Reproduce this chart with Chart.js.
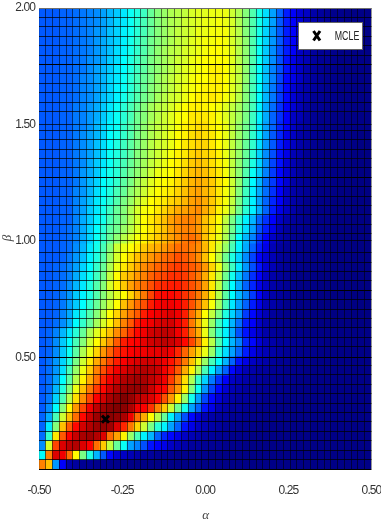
<!DOCTYPE html>
<html>
<head>
<meta charset="utf-8">
<style>html,body{margin:0;padding:0;background:#fff}canvas{display:block}</style>
<script src="https://cdn.jsdelivr.net/npm/chart.js@4"></script>
</head>
<body>
<canvas id="c" width="381" height="523"></canvas>
<script>
const alphaTickLabels = [-0.5, -0.25, 0, 0.25, 0.5];
const betaTickLabels = [0.5, 1, 1.5, 2];
const alphaRange = [-0.5, 0.5];
const betaRange = [0.02, 2.0];
const mclePoint = [{x: -0.3, y: 0.234}];
const legendLabel = 'MCLE';
const strongRows = [12, 19, 31, 43];

// colour level of each cell, 0-99 on the jet map; first line is the top row
const cellValues = [
[21,21,21,22,22,23,24,25,26,28,30,32,35,38,40,43,47,50,52,54,55,56,58,59,59,60,60,60,57,54,50,45,39,34,28,22,15,12,10,9,7,6,5,4,4,3,3,3,3],
[21,21,21,22,22,23,24,25,26,28,30,33,35,38,41,44,47,50,52,54,55,57,58,59,60,60,61,60,58,54,50,45,39,34,28,21,15,12,10,8,7,6,5,4,4,3,3,3,3],
[21,21,21,22,22,23,24,25,27,28,31,33,36,38,41,44,47,50,52,54,56,57,58,60,60,61,61,61,58,55,50,45,39,33,27,21,15,12,10,8,7,6,5,4,4,3,3,3,3],
[21,21,21,22,22,23,24,25,27,29,31,33,36,39,42,45,48,50,52,54,56,57,59,60,61,61,62,61,58,55,51,45,38,33,27,21,15,12,9,8,6,6,5,4,4,3,3,3,3],
[21,21,21,22,22,23,24,25,27,29,31,34,36,39,42,45,48,51,53,55,56,58,59,60,61,62,62,61,59,55,51,45,38,32,26,20,15,12,9,8,6,5,5,4,3,3,3,3,3],
[21,21,21,22,22,23,24,26,27,29,32,34,37,40,43,46,49,51,53,55,57,58,60,61,62,62,62,62,59,55,51,45,38,32,26,20,14,11,9,8,6,5,5,4,3,3,3,3,3],
[21,21,21,22,22,23,24,26,28,30,32,35,37,40,43,46,49,51,53,55,57,59,60,61,62,63,63,62,59,56,51,44,37,31,25,20,14,11,9,7,6,5,4,4,3,3,3,3,3],
[21,21,21,22,22,23,25,26,28,30,33,35,38,41,44,47,49,52,54,56,58,59,61,62,62,63,63,62,59,56,51,44,37,31,25,19,13,11,9,7,6,5,4,4,3,3,3,3,3],
[21,21,21,22,22,23,25,26,28,30,33,36,38,41,44,47,50,52,54,56,58,60,61,62,63,63,63,62,59,56,50,44,37,30,24,18,13,10,8,7,6,5,4,4,3,3,3,3,3],
[21,21,21,22,22,23,25,26,28,31,33,36,39,42,45,48,50,53,55,57,58,60,62,63,63,64,63,61,59,55,50,44,37,30,24,18,13,10,8,7,5,5,4,4,3,3,3,3,3],
[21,21,21,22,22,24,25,27,29,32,35,38,41,44,47,50,53,55,56,58,60,62,63,63,63,62,61,59,56,53,49,44,36,29,23,17,12,10,8,6,5,5,4,3,3,3,3,3,3],
[21,21,21,22,22,24,25,27,29,32,35,38,41,44,48,50,53,55,57,59,61,62,64,64,64,63,61,59,56,53,49,43,36,29,22,17,12,9,8,6,5,4,4,3,3,3,3,3,3],
[21,21,21,22,22,24,25,27,30,33,36,38,42,45,48,51,54,56,57,59,61,63,64,65,65,63,62,60,56,52,48,43,35,28,22,16,12,9,7,6,5,4,4,3,3,3,3,3,3],
[21,21,21,22,22,24,26,28,30,33,37,39,42,45,49,51,54,56,58,60,62,63,65,66,65,64,62,60,56,52,48,42,35,28,21,16,11,9,7,6,5,4,4,3,3,3,3,2,2],
[21,21,21,22,22,24,26,28,31,34,37,40,43,46,49,52,55,57,58,60,62,64,65,66,66,64,62,60,56,52,47,42,34,27,21,15,11,9,7,6,5,4,3,3,3,3,3,2,2],
[21,21,21,22,22,24,26,28,31,34,38,40,43,46,50,52,55,57,59,61,63,64,66,67,66,65,63,60,56,52,47,41,33,26,20,14,11,8,7,5,4,4,3,3,3,3,2,2,2],
[21,21,21,22,22,24,26,29,32,35,38,41,44,47,50,53,56,58,60,62,63,65,67,68,67,65,63,61,56,51,46,40,33,26,19,14,10,8,6,5,4,4,3,3,3,2,2,2,2],
[21,21,21,22,22,24,27,29,32,36,39,41,45,48,51,54,57,60,61,62,64,66,68,69,68,66,64,61,56,51,45,38,32,25,18,13,10,8,6,5,4,4,3,3,3,2,2,2,2],
[21,21,21,22,22,24,27,30,33,37,39,42,46,49,53,56,59,61,62,63,65,67,69,70,69,67,64,62,57,51,44,37,30,23,18,13,10,7,6,5,4,3,3,3,2,2,2,2,2],
[21,21,21,22,22,25,27,30,34,37,40,44,47,51,54,57,60,62,63,64,66,68,70,71,69,67,64,61,57,50,43,36,29,23,17,12,9,7,6,5,4,3,3,3,2,2,2,2,2],
[21,21,21,22,22,25,28,31,35,38,41,45,49,52,56,59,62,63,64,66,67,69,71,72,70,67,64,61,56,49,42,36,28,22,16,12,9,7,6,4,4,3,3,2,2,2,2,2,2],
[21,21,21,22,22,25,28,32,35,39,43,47,50,54,58,61,62,64,66,68,70,71,72,73,70,67,63,60,55,48,41,36,29,22,15,11,9,7,5,4,3,3,3,2,2,2,2,2,2],
[21,21,21,22,22,25,29,32,36,39,44,47,50,54,58,62,64,66,68,71,73,74,74,72,68,65,62,56,49,42,36,30,22,17,12,9,7,6,5,4,3,3,3,2,2,2,2,2,2],
[21,21,21,22,23,25,29,33,37,41,46,48,52,55,59,62,64,66,68,71,73,74,74,72,68,65,61,55,48,40,34,28,20,15,11,8,6,5,5,4,3,3,3,2,2,2,2,2,2],
[21,21,21,22,23,25,29,33,38,42,47,51,55,58,61,63,65,67,69,71,73,75,76,74,68,64,60,54,46,37,30,25,17,12,9,7,6,5,4,4,3,3,2,2,2,2,2,2,2],
[21,21,21,22,23,26,30,35,39,44,50,57,60,62,64,67,69,70,72,74,76,76,75,73,69,64,58,52,44,36,29,22,15,11,8,6,5,5,4,3,3,3,2,2,2,2,2,2,2],
[21,21,21,22,24,27,31,36,40,45,52,58,62,65,68,70,72,74,76,77,79,78,76,73,68,62,56,48,40,33,26,19,12,10,8,6,5,4,4,3,3,3,2,2,2,2,2,2,2],
[21,21,22,23,25,28,33,37,42,47,54,60,64,67,70,73,75,77,78,80,81,80,78,76,72,66,60,51,43,35,27,20,14,10,8,6,5,4,4,3,3,3,2,2,2,2,2,2,2],
[21,21,22,23,25,29,34,38,43,48,56,62,67,69,72,74,77,79,80,82,82,81,78,75,70,64,57,48,39,31,24,17,12,9,7,6,5,4,3,3,3,2,2,2,2,2,2,2,2],
[21,21,22,23,26,30,35,40,45,50,58,63,67,71,74,76,79,82,83,84,84,82,79,76,71,64,56,46,37,29,22,16,11,9,7,6,5,4,3,3,3,2,2,2,2,2,2,2,2],
[21,21,22,24,27,32,36,40,45,50,55,59,62,66,70,75,80,85,86,86,85,82,79,75,70,64,55,46,37,30,25,18,12,9,7,6,5,4,3,3,3,2,2,2,2,2,2,2,2],
[21,21,22,24,28,32,37,42,47,52,57,62,68,72,76,79,84,87,88,88,87,84,79,74,68,61,53,44,35,28,22,15,11,8,7,6,4,4,3,3,2,2,2,2,2,2,2,2,2],
[21,21,22,25,29,35,40,45,50,56,62,66,71,75,78,84,87,88,89,90,88,84,76,70,62,56,49,40,33,27,18,13,10,8,6,5,4,3,3,3,2,2,2,2,2,2,2,2,2],
[21,21,23,26,30,37,42,47,53,58,63,68,74,78,84,87,88,90,91,91,88,84,75,68,60,52,43,37,30,23,15,12,9,7,6,5,4,3,3,2,2,2,2,2,2,2,2,2,2],
[21,22,25,30,35,41,47,54,59,64,68,73,77,82,86,88,91,92,93,92,88,84,76,70,60,50,42,36,29,20,14,11,9,7,6,5,5,4,4,3,3,3,3,3,3,3,3,3,3],
[21,22,26,32,37,44,50,57,62,67,72,78,84,86,87,89,91,92,93,92,90,86,80,73,63,55,45,37,30,25,16,13,10,8,7,6,6,5,5,4,4,4,3,3,3,3,3,3,3],
[21,22,26,32,38,46,54,60,66,72,77,82,85,87,88,88,89,89,90,88,83,77,71,66,60,52,41,34,28,22,15,11,9,8,7,6,5,5,4,4,4,3,3,3,3,3,3,3,3],
[21,23,27,33,40,49,57,64,70,75,80,84,87,89,90,91,91,90,88,85,81,75,68,60,52,44,37,30,22,14,11,9,8,7,6,5,5,4,4,4,3,3,3,3,3,3,3,3,3],
[21,23,27,34,44,52,60,67,74,79,84,88,90,92,93,94,93,92,88,84,78,70,63,54,44,36,28,22,13,10,8,7,6,6,5,5,4,4,4,3,3,3,3,3,3,3,3,3,3],
[21,23,28,37,46,55,63,70,76,83,88,91,94,95,96,95,93,91,88,81,74,65,54,42,33,24,17,12,9,8,7,6,6,5,5,4,4,4,3,3,3,3,3,3,3,3,3,3,3],
[21,23,30,40,50,60,68,75,81,86,91,94,96,97,97,96,92,88,86,78,72,63,50,38,27,19,13,10,8,7,6,6,5,5,4,4,4,3,3,3,3,3,3,3,3,3,3,3,3],
[21,24,33,44,55,65,73,80,87,91,95,97,99,97,93,92,90,86,79,72,63,52,39,28,19,13,10,8,7,6,6,5,5,4,4,4,3,3,3,3,3,3,3,3,3,3,3,3,3],
[21,26,37,50,62,72,80,88,93,96,98,99,98,95,88,87,82,74,67,57,48,39,28,22,14,11,8,7,6,6,5,5,4,4,4,3,3,3,3,3,3,3,3,3,3,3,3,3,3],
[22,29,44,57,68,76,86,92,96,97,98,97,95,88,76,70,62,55,47,36,28,20,13,10,8,7,6,6,5,5,4,4,4,3,3,3,3,3,3,3,3,3,3,3,3,3,3,3,3],
[22,35,50,68,78,86,91,94,96,97,96,90,83,75,66,57,49,41,36,28,22,14,11,9,8,7,6,5,5,4,4,4,3,3,3,3,3,3,3,3,3,3,3,3,3,3,3,3,3],
[23,42,64,78,87,92,95,96,94,90,76,71,63,52,44,36,30,22,16,13,11,9,8,7,6,6,5,5,4,4,4,3,3,3,3,3,3,3,3,3,3,3,3,3,3,3,3,3,3],
[26,58,80,90,93,94,90,87,76,67,56,47,38,28,25,20,14,12,11,9,8,7,6,6,5,5,5,4,4,4,3,3,3,3,3,3,3,3,3,3,3,3,3,3,3,3,3,3,3],
[37,74,90,88,76,62,49,40,30,21,13,10,9,8,7,6,6,5,5,5,4,4,4,4,4,3,3,3,3,3,3,3,3,3,3,3,3,3,3,3,3,3,3,3,3,3,3,3,3],
[74,68,27,12,7,6,5,5,4,4,4,4,3,3,3,3,3,3,3,3,3,3,3,3,3,3,3,3,3,3,3,3,3,3,3,3,3,3,3,3,3,3,3,3,3,3,3,3,3]
];

const cols = cellValues[0].length, rows = cellValues.length;

function jet(level) {
  const shown = level < 12 ? level * level / 12 : level;
  const v = shown / 99;
  const f = (x) => Math.round(255 * Math.max(0, Math.min(1, 1.5 - Math.abs(4 * v - x))));
  return `rgb(${f(3)},${f(2)},${f(1)})`;
}

const alphaAt = (i) => alphaRange[0] + (alphaRange[1] - alphaRange[0]) * i / cols;
const betaAt = (k) => betaRange[0] + (betaRange[1] - betaRange[0]) * k / rows;

function snap(v, labels, step) {
  for (const l of labels) if (Math.abs(v - l) < step / 2) return l;
  return v;
}

const heatDatasets = cellValues.map((line, i) => {
  const k = rows - 1 - i;
  return {
    type: 'bar',
    xAxisID: 'x',
    yAxisID: 'y',
    data: line.map((_, c) => ({x: alphaAt(c + 0.5), y: [betaAt(k), betaAt(k + 1)]})),
    backgroundColor: line.map(jet),
    borderWidth: 0,
    grouped: false,
    barThickness: 6.9,
    order: 2
  };
});

const mcleDataset = {
  type: 'scatter',
  label: legendLabel,
  xAxisID: 'xMark',
  yAxisID: 'y',
  data: mclePoint,
  pointStyle: 'crossRot',
  pointRadius: 5,
  borderColor: '#000',
  borderWidth: 3,
  order: 1
};

const textStyle = {
  id: 'textStyle',
  beforeDraw(chart) { chart.ctx.letterSpacing = '-0.9px'; }
};

const legendBox = {
  id: 'legendBox',
  afterDraw(chart) {
    const g = chart.ctx;
    g.save();
    g.letterSpacing = '0px';
    g.fillStyle = '#fff';
    g.fillRect(298, 22.5, 65, 27);
    g.strokeStyle = '#666';
    g.lineWidth = 1;
    g.strokeRect(298.5, 22.5, 64, 27);
    g.strokeStyle = '#000';
    g.lineWidth = 3;
    g.beginPath();
    g.moveTo(313.5, 31); g.lineTo(320, 40.5);
    g.moveTo(320, 31); g.lineTo(313.5, 40.5);
    g.stroke();
    g.fillStyle = '#222';
    g.font = '13px "Liberation Sans"';
    g.textAlign = 'center';
    g.textBaseline = 'middle';
    g.translate(347, 36);
    g.scale(0.68, 1);
    g.fillText(legendLabel, 0, 0);
    g.restore();
  }
};

new Chart(document.getElementById('c'), {
  type: 'bar',
  data: {datasets: [...heatDatasets, mcleDataset]},
  plugins: [textStyle, legendBox],
  options: {
    responsive: false,
    animation: false,
    layout: {padding: {left: 0, right: 9.5, top: 7, bottom: 0}},
    plugins: {legend: {display: false}, tooltip: {enabled: false}},
    scales: {
      x: {
        type: 'linear',
        min: alphaRange[0],
        max: alphaRange[1],
        offset: false,
        afterBuildTicks(s) {
          const edges = Array.from({length: cols + 1}, (_, i) => alphaAt(i));
          const extra = alphaTickLabels.filter((l) => !edges.some((e) => Math.abs(e - l) < 1e-9));
          s.ticks = [...edges, ...extra].sort((a, b) => a - b).map((value) => ({value}));
        },
        afterFit(s) { s.height = 54; s.paddingLeft = 0; s.paddingRight = 0; },
        grid: {
          z: 1,
          offset: false,
          drawTicks: false,
          lineWidth: 1,
          color: (c) => {
            if (!c.tick) return 'rgba(0,0,0,0)';
            const i = (c.tick.value - alphaRange[0]) * cols;
            if (Math.abs(i - Math.round(i)) > 1e-6) return 'rgba(0,0,0,0)';
            if (Math.round(i) === cols) return 'rgba(150,150,150,1)';
            return Math.round(i) === 0 ? 'rgba(0,0,0,0.15)' : 'rgba(0,0,0,0.55)';
          }
        },
        border: {display: false},
        ticks: {
          autoSkip: false,
          maxRotation: 0,
          padding: 14,
          color: '#333',
          font: {family: '"Liberation Sans"', size: 12},
          callback: (v) => alphaTickLabels.some((l) => Math.abs(l - v) < 1e-9) ? v.toFixed(2) : ''
        },
        title: {
          display: true,
          text: 'α',
          color: '#444',
          font: {family: '"Liberation Serif"', style: 'italic', size: 13},
          padding: {top: 0, bottom: 0}
        }
      },
      xMark: {
        type: 'linear',
        axis: 'x',
        position: 'bottom',
        display: false,
        offset: false,
        min: alphaRange[0],
        max: alphaRange[1]
      },
      y: {
        type: 'linear',
        min: betaRange[0],
        max: betaRange[1],
        afterBuildTicks(s) {
          s.ticks = Array.from({length: rows + 1}, (_, k) => ({value: snap(betaAt(k), betaTickLabels, (betaRange[1] - betaRange[0]) / rows)}));
        },
        afterFit(s) { s.width = 39; s.paddingTop = 0; s.paddingBottom = 0; },
        grid: {
          z: 1,
          drawTicks: false,
          lineWidth: 1,
          color: (c) => {
            const k = c.index;
            if (k === 0) return '#000';
            if (k === rows) return 'rgba(110,110,110,1)';
            return strongRows.includes(k) ? 'rgba(0,0,0,1)' : 'rgba(0,0,0,0.72)';
          }
        },
        border: {display: false},
        ticks: {
          autoSkip: false,
          padding: 4,
          color: '#333',
          font: {family: '"Liberation Sans"', size: 12},
          callback: (v) => betaTickLabels.includes(v) ? v.toFixed(2) : ''
        },
        title: {
          display: true,
          text: 'β',
          color: '#444',
          font: {family: '"Liberation Serif"', style: 'italic', size: 13},
          padding: {top: 0, bottom: 0}
        }
      }
    }
  }
});
</script>
</body>
</html>
